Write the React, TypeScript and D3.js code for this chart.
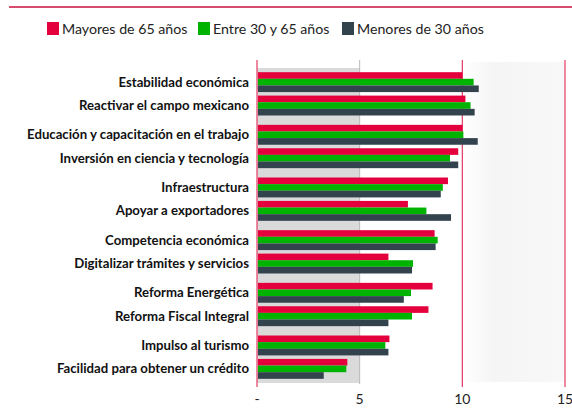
import React from "react";
import * as d3 from "d3";

const categories = [
  "Estabilidad económica",
  "Reactivar el campo mexicano",
  "Educación y capacitación en el trabajo",
  "Inversión en ciencia y tecnología",
  "Infraestructura",
  "Apoyar a exportadores",
  "Competencia económica",
  "Digitalizar trámites y servicios",
  "Reforma Energética",
  "Reforma Fiscal Integral",
  "Impulso al turismo",
  "Facilidad para obtener un crédito",
];

const seriesNames = ["Mayores de 65 años", "Entre 30 y 65 años", "Menores de 30 años"];
const mayores = [10.0, 10.15, 10.0, 9.8, 9.3, 7.35, 8.65, 6.4, 8.55, 8.35, 6.45, 4.4];
const entre = [10.55, 10.4, 10.05, 9.4, 9.05, 8.25, 8.8, 7.6, 7.5, 7.55, 6.25, 4.35];
const menores = [10.8, 10.6, 10.75, 9.8, 8.95, 9.45, 8.7, 7.55, 7.15, 6.4, 6.4, 3.25];
const seriesValues = [mayores, entre, menores];
const seriesColors = ["#e4003d", "#00b300", "#33434e"];
const tickValues = [0, 5, 10, 15];
const tickLabels = ["-", "5", "10", "15"];

const W = 572;
const H = 411;

export default function App() {
  const x = d3.scaleLinear().domain([0, 15]).range([257, 565]);
  const pairs = d3.range(categories.length / 2);
  const yPair = d3.scaleBand<number>().domain(pairs).range([67.5, 383.5]).padding(0);
  const yGroup = d3
    .scaleBand<number>()
    .domain([0, 1])
    .range([0, yPair.bandwidth()])
    .paddingInner(0.15)
    .paddingOuter(0.2);
  const ySeries = d3
    .scaleBand<number>()
    .domain([0, 1, 2])
    .range([0, yGroup.bandwidth()])
    .padding(0);
  const groupTop = (i: number) => (yPair(Math.floor(i / 2)) as number) + (yGroup(i % 2) as number);

  const legendX = [47, 198, 342];
  const font = "Lato, 'Open Sans', sans-serif";

  return (
    <svg width={W} height={H} style={{ position: "absolute", left: 0, top: 0, background: "#fff" }}>
      <defs>
        <linearGradient id="rfade" x1="0" x2="1" y1="0" y2="0">
          <stop offset="0" stopColor="#ffffff" />
          <stop offset="0.3" stopColor="#f5f5f5" />
          <stop offset="1" stopColor="#f8f8f8" />
        </linearGradient>
      </defs>
      <line x1={9} x2={572} y1={7} y2={7} stroke="#c8103c" strokeWidth={1.6} />
      {/* legend */}
      {seriesNames.map((s, i) => (
        <g key={s}>
          <rect x={legendX[i]} y={22} width={12} height={13} fill={seriesColors[i]} />
          <text x={legendX[i] + 15} y={34} fontFamily={font} fontSize={14.2} fill="#222">
            {s}
          </text>
        </g>
      ))}
      {/* background */}
      <rect x={x(10)} y={62} width={x(15) - x(10)} height={320} fill="url(#rfade)" />
      <rect x={x(0)} y={68} width={x(5) - x(0)} height={315} fill="#dadada" />
      {/* grid lines */}
      <line x1={x(5)} x2={x(5)} y1={60} y2={384} stroke="#b8b8b8" strokeWidth={1} />
      {[0, 10, 15].map((v) => (
        <line key={v} x1={x(v)} x2={x(v)} y1={60} y2={387} stroke="#e63a64" strokeWidth={1.2} />
      ))}
      {/* bars */}
      {categories.map((c, i) => (
        <g key={c}>
          {seriesValues.map((vals, s) => (
            <rect
              key={s}
              x={x(0) + 1}
              y={groupTop(i) + (ySeries(s) as number)}
              width={x(vals[i]) - x(0) - 1}
              height={ySeries.bandwidth()}
              fill={seriesColors[s]}
            />
          ))}
          <text
            x={249}
            y={groupTop(i) + yGroup.bandwidth() / 2}
            dy="0.35em"
            textAnchor="end"
            fontFamily={font}
            fontWeight={700}
            fontSize={13.2}
            fill="#111"
          >
            {c}
          </text>
        </g>
      ))}
      {/* axis labels */}
      {tickValues.map((v, i) => (
        <text key={v} x={x(v)} y={404} textAnchor="middle" fontFamily={font} fontSize={14} fill="#222">
          {tickLabels[i]}
        </text>
      ))}
    </svg>
  );
}
